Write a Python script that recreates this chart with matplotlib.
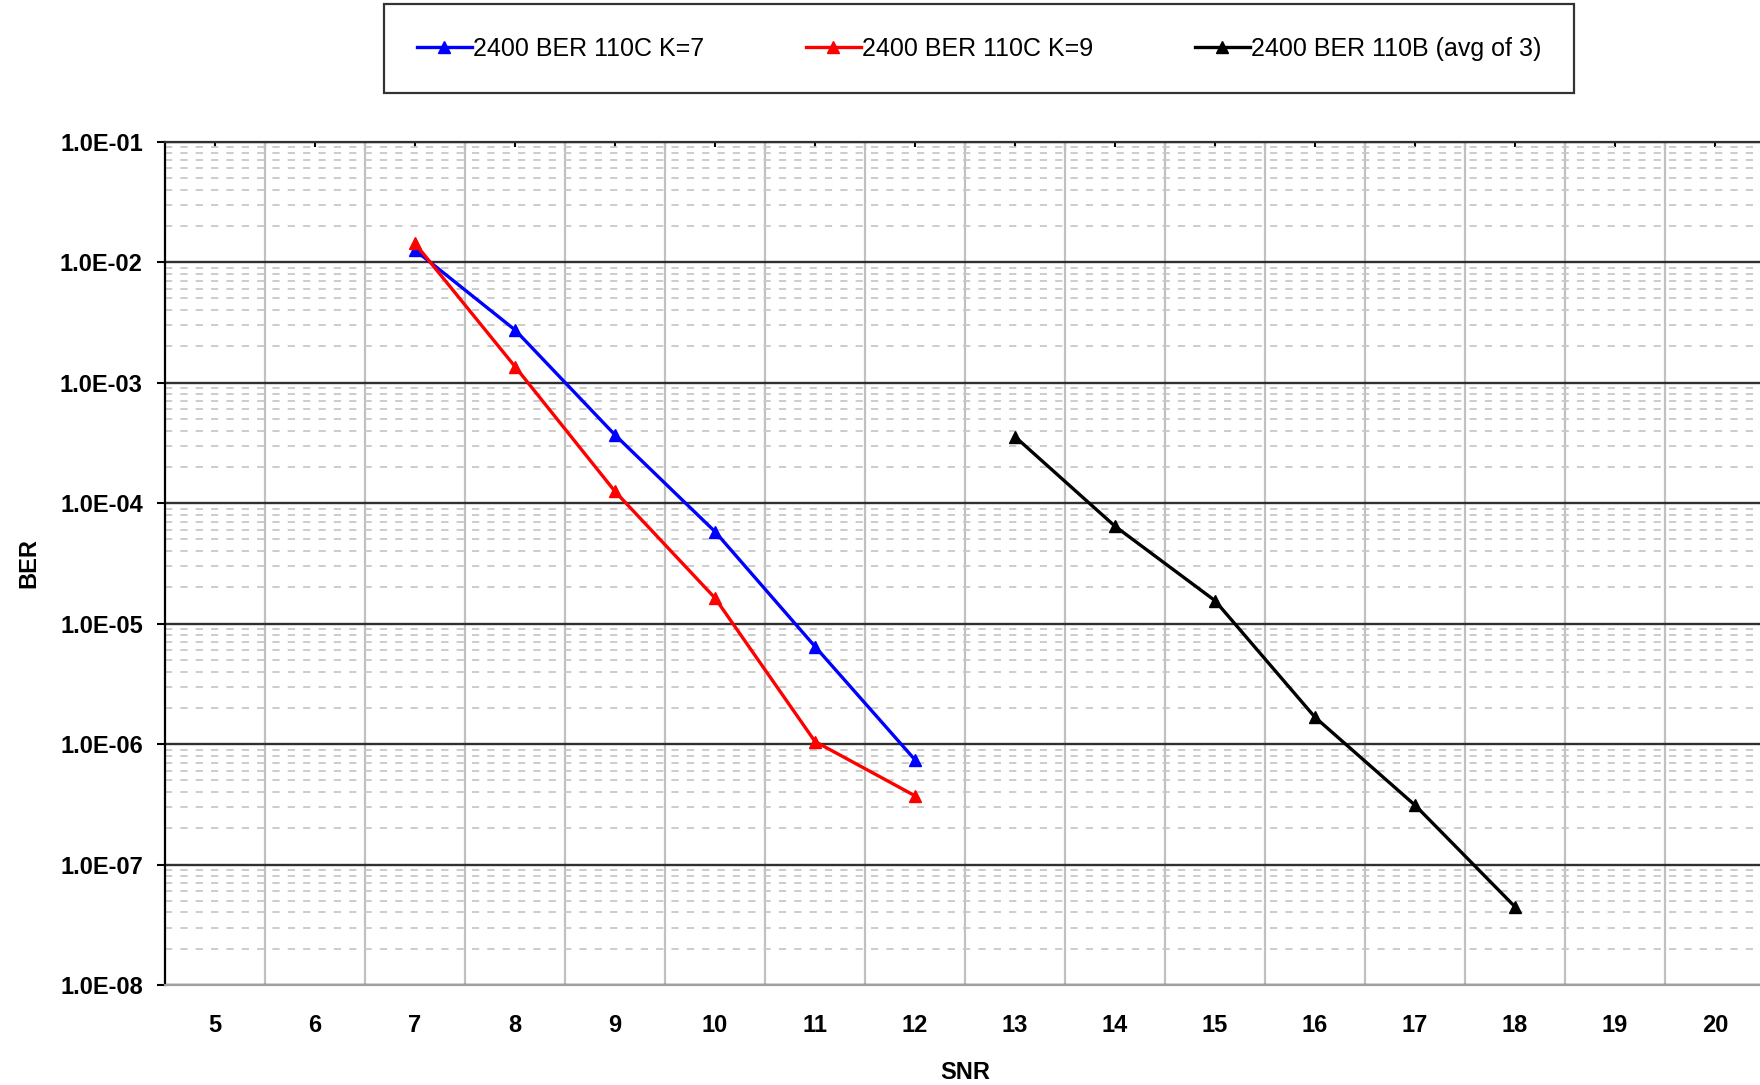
import matplotlib
matplotlib.use("Agg")
import matplotlib.pyplot as plt
from matplotlib.ticker import FixedLocator, FuncFormatter, NullFormatter
import numpy as np

plt.rcParams['font.family'] = ['Liberation Sans', 'DejaVu Sans']

# ---- data ----
snr_categories = [5, 6, 7, 8, 9, 10, 11, 12, 13, 14, 15, 16, 17, 18, 19, 20]

k7_snr = [7, 8, 9, 10, 11, 12]
k7_ber = [1.26e-2, 2.74e-3, 3.68e-4, 5.8e-5, 6.45e-6, 7.4e-7]

k9_snr = [7, 8, 9, 10, 11, 12]
k9_ber = [1.43e-2, 1.36e-3, 1.25e-4, 1.63e-5, 1.05e-6, 3.72e-7]

b110_snr = [13, 14, 15, 16, 17, 18]
b110_ber = [3.56e-4, 6.43e-5, 1.55e-5, 1.67e-6, 3.11e-7, 4.46e-8]

series_labels = ["2400 BER 110C K=7", "2400 BER 110C K=9", "2400 BER 110B (avg of 3)"]
series_colors = ["#0000FF", "#FF0000", "#000000"]

y_ticks = [1e-8, 1e-7, 1e-6, 1e-5, 1e-4, 1e-3, 1e-2, 1e-1]

# ---- figure ----
W, H = 1760, 1085
fig = plt.figure(figsize=(W / 100, H / 100), dpi=100)
left, right, top, bottom = 165, 1765, 141.7, 985
ax = fig.add_axes([left / W, 1 - bottom / H, (right - left) / W, (bottom - top) / H])

ax.set_yscale('log')
ax.set_ylim(y_ticks[0], y_ticks[-1])
ax.set_xlim(snr_categories[0] - 0.5, snr_categories[-1] + 0.5)

minor_y = [m * t for t in y_ticks[:-1] for m in range(2, 10)]
ax.xaxis.set_major_locator(FixedLocator(snr_categories))
ax.xaxis.set_minor_locator(FixedLocator([c + 0.5 for c in snr_categories[:-1]]))
ax.yaxis.set_major_locator(FixedLocator(y_ticks))
ax.yaxis.set_minor_locator(FixedLocator(minor_y))
ax.yaxis.set_minor_formatter(NullFormatter())
ax.yaxis.set_major_formatter(FuncFormatter(lambda v, p: f"{v:.1E}"))

ax.grid(False)
ax.xaxis.grid(True, which='minor', color='#c0c0c0', linewidth=1.6)
ax.yaxis.grid(True, which='minor', color='#c8c8c8', linewidth=1.3, linestyle=(0, (4, 4.5)))
ax.yaxis.grid(True, which='major', color='#303030', linewidth=1.7)
ax.set_axisbelow(True)

ax.tick_params(axis='x', which='both', length=0, pad=21, labelsize=17)
ax.tick_params(axis='y', which='major', length=6, width=1.5, direction='out',
               pad=10, labelsize=17, color='black')
ax.tick_params(axis='y', which='minor', length=0)
for lbl in ax.get_xticklabels() + ax.get_yticklabels():
    lbl.set_fontweight('bold')

ax.spines['right'].set_visible(False)
ax.spines['top'].set_color('#303030')
ax.spines['top'].set_linewidth(1.6)
ax.spines['left'].set_color('black')
ax.spines['left'].set_linewidth(1.6)
ax.spines['bottom'].set_color('#a0a0a0')
ax.spines['bottom'].set_linewidth(1.6)
ax.spines['bottom'].set_zorder(3)

# small ticks on top edge
sec = ax.secondary_xaxis('top')
sec.set_xticks([c + 0.5 for c in snr_categories[:-1]])
sec.set_xticks(snr_categories, minor=True)
sec.tick_params(which='major', direction='in', length=6, width=1.5, labeltop=False)
sec.tick_params(which='minor', direction='in', length=3.5, width=1.5, labeltop=False)
sec.xaxis.set_minor_formatter(NullFormatter())
sec.spines['top'].set_visible(False)

# data
for xs, ys, lab, col in [(k7_snr, k7_ber, series_labels[0], series_colors[0]),
                         (k9_snr, k9_ber, series_labels[1], series_colors[1]),
                         (b110_snr, b110_ber, series_labels[2], series_colors[2])]:
    ax.plot(xs, ys, color=col, linewidth=2.4, marker='^', markersize=9,
            label=lab, zorder=5, clip_on=False)

ax.set_xlabel("SNR", fontsize=17, fontweight='bold', labelpad=17)
ax.set_ylabel("BER", fontsize=17, fontweight='bold', labelpad=14)

# legend
lx0, lx1, ly0, ly1 = 384, 1574, 4.5, 93
handles, labels = ax.get_legend_handles_labels()
leg = fig.legend(handles, labels, ncol=3, mode='expand',
                 bbox_to_anchor=(lx0 / W, 1 - ly1 / H, (lx1 - lx0) / W, (ly1 - ly0) / H),
                 loc='center', fontsize=18, frameon=True, fancybox=False,
                 borderpad=1.3, handlelength=2.2, handletextpad=0.05,
                 borderaxespad=0, columnspacing=3.0)
leg.get_frame().set_edgecolor('black')
leg.get_frame().set_linewidth(1.6)

fig.savefig("out.png", dpi=100)
